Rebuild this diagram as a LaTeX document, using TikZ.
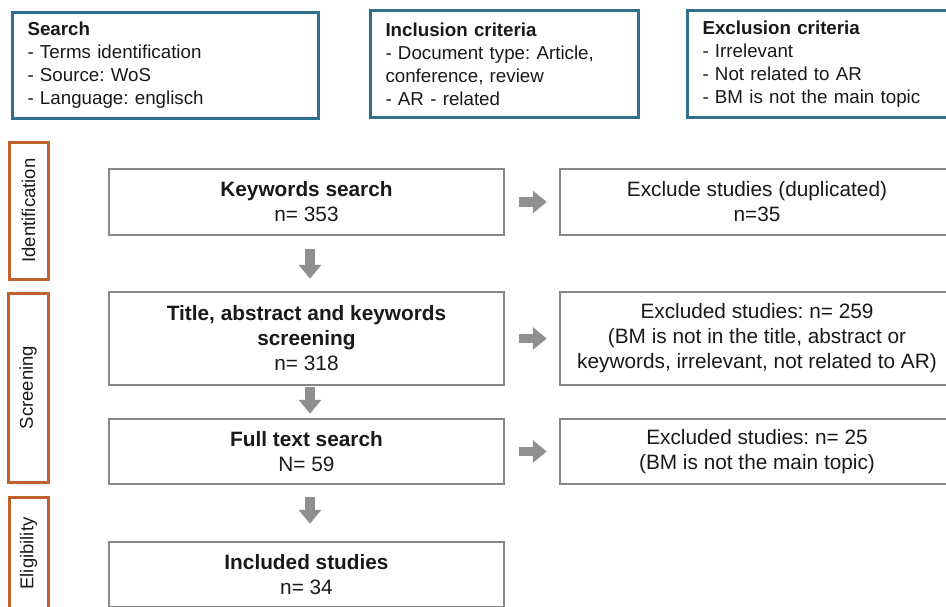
\documentclass[tikz,border=0pt]{standalone}
\usepackage{fontspec}
\setmainfont{Liberation Sans}
\usetikzlibrary{arrows.meta}
\frenchspacing

\definecolor{critblue}{HTML}{2E6F8E}
\definecolor{phaseorange}{HTML}{C0622B}
\definecolor{boxgray}{HTML}{878787}
\definecolor{arrowgray}{HTML}{8F8F8F}

\newcommand{\crittext}{\fontsize{18.75}{23}\selectfont}
\newcommand{\steptext}{\fontsize{20.8}{25}\selectfont}
\newcommand{\phasetext}{\fontsize{18.5}{22}\selectfont}

\tikzset{
    critbox/.style={draw=critblue, line width=3pt, anchor=north west, align=left,
            inner xsep=15pt, inner ysep=0pt, font=\crittext, text=black!90},
    phasebox/.style={draw=phaseorange, line width=3pt, rotate=90, inner sep=0pt,
            font=\phasetext, text=black!90},
    stepbox/.style={draw=boxgray, line width=2.5pt, align=center, inner sep=0pt,
            font=\steptext, text=black!90},
    bigarrow/.style={draw=arrowgray, line width=9.5pt,
            -{Triangle[width=22pt, length=14pt, fill=arrowgray]}}
}

\begin{document}
\begin{tikzpicture}[x=1pt, y=-1pt]
        \useasboundingbox (0,0) rectangle (946,606);

        % criteria
        \node[critbox, text width=276pt, minimum height=106pt] (search) at (11,11)
            {\textbf{Search}\\- Terms identification\\- Source: WoS\\- Language: englisch};
        \node[critbox, text width=238pt, minimum height=107pt] (inclcrit) at (369,9)
            {\textbf{Inclusion criteria}\\- Document type: Article,\\conference, review\\- AR - related};
        \node[critbox, text width=240pt, minimum height=107pt] (exclcrit) at (686,9)
            {\textbf{Exclusion criteria}\\- Irrelevant\\- Not related to AR\\- BM is not the main topic};

        % phases
        \node[phasebox, minimum width=137pt, minimum height=39pt] (ident) at (28.5,210.5) {Identification};
        \node[phasebox, minimum width=189pt, minimum height=40pt] (screen) at (28,387.5) {Screening};
        \node[phasebox, minimum width=113pt, minimum height=39pt] (elig) at (28.5,553.5) {Eligibility};

        % left column
        \node[stepbox, minimum width=395pt, minimum height=66pt] (kw) at (306.5,202)
            {\textbf{Keywords search}\\n= 353};
        \node[stepbox, minimum width=395pt, minimum height=93pt] (title) at (306.5,338.5)
            {\textbf{Title, abstract and keywords}\\\textbf{screening}\\n= 318};
        \node[stepbox, minimum width=395pt, minimum height=65pt] (full) at (306.5,451.5)
            {\textbf{Full text search}\\N= 59};
        \node[stepbox, minimum width=395pt, minimum height=65pt] (incl) at (306.5,574.5)
            {\textbf{Included studies}\\n= 34};

        % right column
        \node[stepbox, minimum width=394pt, minimum height=66pt] (dup) at (757,202)
            {Exclude studies (duplicated)\\n=35};
        \node[stepbox, minimum width=394pt, minimum height=93pt] (excla) at (757,338.5)
            {Excluded studies: n= 259\\(BM is not in the title, abstract or\\keywords, irrelevant, not related to AR)};
        \node[stepbox, minimum width=394pt, minimum height=65pt] (exclb) at (757,451.5)
            {Excluded studies: n= 25\\(BM is not the main topic)};

        % arrows
        \foreach \a/\b/\s/\e in {kw/title/13pt/12pt, title/full/1pt/4pt, full/incl/12pt/17pt} {
                \draw[bigarrow, shorten <=\s, shorten >=\e] ([xshift=3.5pt]\a.south) -- ([xshift=3.5pt]\b.north);
            }
        \foreach \a/\b in {kw/dup, title/excla, full/exclb} {
                \draw[bigarrow, shorten <=14pt, shorten >=12pt] (\a.east) -- (\b.west);
            }
    \end{tikzpicture}
\end{document}
